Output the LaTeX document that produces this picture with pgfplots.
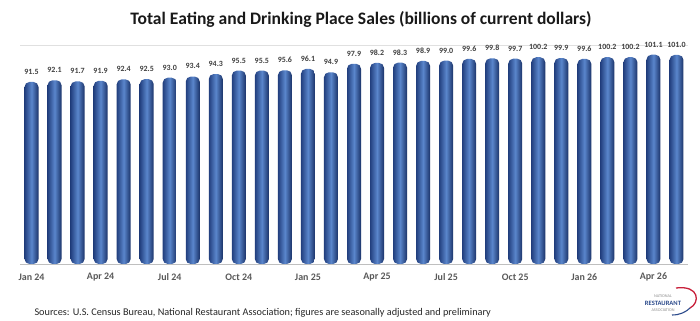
\documentclass[border=0pt]{standalone}
\usepackage{pgfplots}
\usepackage{pgfplotstable}
\pgfplotsset{compat=1.18}
\usepackage{fontspec}
\setmainfont{Carlito}
\definecolor{barD}{HTML}{223F7E}
\definecolor{barL}{HTML}{5A86CC}
\definecolor{barR}{HTML}{1A3268}
\definecolor{labc}{HTML}{404040}
\definecolor{tickc}{HTML}{595959}
\definecolor{nraBlue}{HTML}{2B4A8B}
\definecolor{nraRed}{HTML}{C8203A}
\pgfplotstableread{
x y
0 91.5
1 92.1
2 91.7
3 91.9
4 92.4
5 92.5
6 93.0
7 93.4
8 94.3
9 95.5
10 95.5
11 95.6
12 96.1
13 94.9
14 97.9
15 98.2
16 98.3
17 98.9
18 99.0
19 99.6
20 99.8
21 99.7
22 100.2
23 99.9
24 99.6
25 100.2
26 100.2
27 101.1
28 101.0
}\salesdata
\begin{document}
\begin{tikzpicture}
\useasboundingbox (0,0) rectangle (700bp,321bp);
\node[font=\bfseries\fontsize{17.6}{20}\selectfont, text=black!90] at (361bp,302bp) {Total Eating and Drinking Place Sales (billions of current dollars)};
\begin{axis}[
  at={(20bp,57bp)}, anchor=south west,
  scale only axis, width=668bp, height=219bp,
  xmin=-0.5, xmax=28.5, ymin=27.5, ymax=104.5,
  axis lines=none,
  ybar, bar width=14bp, bar shift=0pt,
  /pgf/number format/assume math mode=true,
  xtick=\empty,
  ytick=\empty,
  clip=false,
  nodes near coords={\pgfmathprintnumber[fixed,fixed zerofill,precision=1]{\pgfplotspointmeta}},
  every node near coord/.append style={font=\bfseries\fontsize{8}{9}\selectfont, text=labc, yshift=4bp},
]
\draw[black!12, line width=0.6bp] (rel axis cs:0,1) -- (rel axis cs:1,1);
\draw[black!25, line width=0.8bp] (rel axis cs:0,0) -- (rel axis cs:1,0);
\pgfplotsinvokeforeach{0,...,28}{
\addplot[draw=none, left color=barD, right color=barR, middle color=barL, rounded corners=5bp,
  restrict x to domain=#1:#1] table[x=x,y=y] {\salesdata};
}
\end{axis}
\foreach \i/\t in {0/Jan 24,3/Apr 24,6/Jul 24,9/Oct 24,12/Jan 25,15/Apr 25,18/Jul 25,21/Oct 25,24/Jan 26,27/Apr 26}{
  \pgfmathsetmacro{\xx}{31.5+23.034*\i}
  \node[font=\bfseries\fontsize{10}{12}\selectfont, text=tickc] at (\xx bp,44bp) {\t};
}
\node[font=\fontsize{10.3}{12}\selectfont, text=black!85, anchor=west] at (31bp,8bp) {Sources: U.S. Census Bureau, National Restaurant Association; figures are seasonally adjusted and preliminary};
% logo
\node[font=\fontsize{4.2}{5}\selectfont, text=black!45] at (663bp,25bp) {NATIONAL};
\node[font=\bfseries\fontsize{6.6}{7}\selectfont, text=nraBlue] at (663bp,17.5bp) {RESTAURANT};
\node[font=\fontsize{4.2}{5}\selectfont, text=black!45] at (663bp,11bp) {ASSOCIATION};
\draw[nraRed, line width=1.3bp] (676bp,33bp) .. controls (700bp,36bp) and (700bp,18bp) .. (690bp,13bp);
\draw[nraBlue, line width=1.1bp] (690bp,13bp) .. controls (686bp,9bp) and (680bp,6bp) .. (672bp,6bp);
\end{tikzpicture}
\end{document}
